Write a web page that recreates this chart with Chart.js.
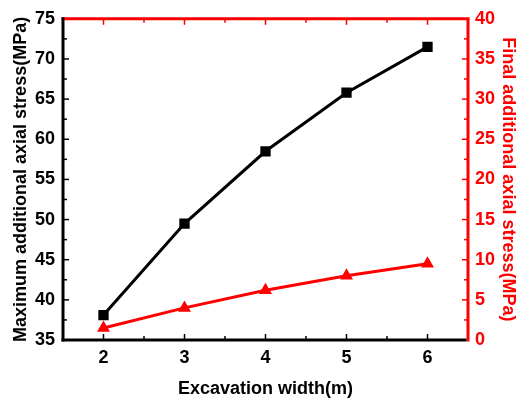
<!DOCTYPE html>
<html>
<head>
<meta charset="utf-8">
<script src="https://cdn.jsdelivr.net/npm/chart.js@4/dist/chart.umd.min.js"></script>
<style>
  html, body { margin: 0; padding: 0; background: #fff; }
  #wrap { width: 519px; height: 400px; }
</style>
</head>
<body>
<div id="wrap"><canvas id="chart" width="519" height="400"></canvas></div>
<script>
// data
const widths = [2, 3, 4, 5, 6];
const maxStress = [38.1, 49.5, 58.5, 65.8, 71.5];
const finalStress = [1.5, 4.0, 6.2, 8.0, 9.5];

const xTicks = [2, 3, 4, 5, 6];
const leftTicks = [35, 40, 45, 50, 55, 60, 65, 70, 75];
const rightTicks = [0, 5, 10, 15, 20, 25, 30, 35, 40];

const RED = '#ff0000';
const FONT = { family: '"Liberation Sans", Arial, sans-serif', size: 18, weight: 'bold' };

function setTicks(list) {
    return function(scale) { scale.ticks = list.map(v => ({ value: v })); };
}

// frame + inward ticks, drawn from the scales
const framePlugin = {
    id: 'frame',
    afterDraw(chart) {
        const ctx = chart.ctx;
        const a = chart.chartArea;
        const x = chart.scales.x, y = chart.scales.y, y1 = chart.scales.y1;
        ctx.save();
        ctx.lineCap = 'butt';

        function line(x1, y1_, x2, y2, color, w) {
            ctx.strokeStyle = color;
            ctx.lineWidth = w;
            ctx.beginPath();
            ctx.moveTo(x1, y1_);
            ctx.lineTo(x2, y2);
            ctx.stroke();
        }

        // x ticks (bottom black, top red)
        for (let v = x.min + 0.5; v < x.max - 1e-9; v += 0.5) {
            const px = x.getPixelForValue(v);
            const major = Math.abs(v - Math.round(v)) < 1e-9;
            const len = major ? 6 : 4;
            line(px, a.bottom, px, a.bottom - len, '#000', 1.5);
            line(px, a.top, px, a.top + len, RED, 1.5);
        }
        // left ticks
        for (let v = y.min + 2.5; v < y.max - 1e-9; v += 2.5) {
            const py = y.getPixelForValue(v);
            const major = Math.abs(v / 5 - Math.round(v / 5)) < 1e-9;
            line(a.left, py, a.left + (major ? 6 : 4), py, '#000', 1.5);
        }
        // right ticks
        for (let v = y1.min + 2.5; v < y1.max - 1e-9; v += 2.5) {
            const py = y1.getPixelForValue(v);
            const major = Math.abs(v / 5 - Math.round(v / 5)) < 1e-9;
            line(a.right, py, a.right - (major ? 6 : 4), py, RED, 1.5);
        }

        // frame
        line(a.left - 1.5, a.top, a.right + 1.5, a.top, RED, 3);
        line(a.right, a.top, a.right, a.bottom + 1.5, RED, 3);
        line(a.left, a.top - 1.5, a.left, a.bottom + 1.5, '#000', 3);
        line(a.left - 1.5, a.bottom, a.right - 1.5, a.bottom, '#000', 3);
        ctx.restore();
    }
};

const ctx = document.getElementById('chart').getContext('2d');
const chart = new Chart(ctx, {
    type: 'line',
    data: {
        datasets: [{
            label: 'Maximum additional axial stress',
            data: widths.map((w, i) => ({ x: w, y: maxStress[i] })),
            yAxisID: 'y',
            borderColor: '#000',
            backgroundColor: '#000',
            borderWidth: 3,
            pointStyle: 'rect',
            pointRadius: 7.3,
            pointBorderWidth: 0,
            tension: 0
        }, {
            label: 'Final additional axial stress',
            data: widths.map((w, i) => ({ x: w, y: finalStress[i] })),
            yAxisID: 'y1',
            borderColor: RED,
            backgroundColor: RED,
            borderWidth: 3,
            pointStyle: 'triangle',
            pointRadius: 7.5,
            pointBorderWidth: 0,
            tension: 0
        }]
    },
    options: {
        responsive: false,
        animation: false,
        layout: { padding: { top: 16, left: 0, right: 0, bottom: 0 } },
        plugins: {
            legend: { display: false },
            tooltip: { enabled: false }
        },
        scales: {
            x: {
                type: 'linear',
                min: 1.5,
                max: 6.5,
                afterBuildTicks: setTicks(xTicks),
                afterFit: s => { s.height = 60; },
                grid: { display: false, drawTicks: false },
                border: { display: false },
                ticks: { color: '#000', font: FONT, padding: 7 },
                title: {
                    display: true,
                    text: 'Excavation width(m)',
                    color: '#000',
                    font: FONT,
                    padding: { top: 0, bottom: 0 }
                }
            },
            y: {
                position: 'left',
                min: 35,
                max: 75,
                afterBuildTicks: setTicks(leftTicks),
                afterFit: s => { s.width = 63; },
                grid: { display: false, drawTicks: false },
                border: { display: false },
                ticks: { color: '#000', font: FONT, padding: 8 },
                title: {
                    display: true,
                    text: 'Maximum additional axial stress(MPa)',
                    color: '#000',
                    font: FONT,
                    padding: { top: 10, bottom: 0 }
                }
            },
            y1: {
                position: 'right',
                min: 0,
                max: 40,
                afterBuildTicks: setTicks(rightTicks),
                afterFit: s => { s.width = 51; },
                grid: { display: false, drawTicks: false },
                border: { display: false },
                ticks: { color: RED, font: FONT, padding: 7 },
                title: {
                    display: true,
                    text: 'Final additional axial stress(MPa)',
                    color: RED,
                    font: FONT,
                    padding: { top: 0, bottom: 0 }
                }
            }
        }
    },
    plugins: [framePlugin]
});
</script>
</body>
</html>
